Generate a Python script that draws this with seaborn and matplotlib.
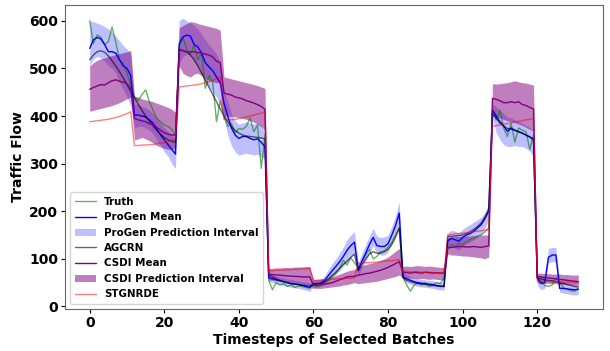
import numpy as np
import matplotlib
matplotlib.use("Agg")
import matplotlib.pyplot as plt
import seaborn as sns

# ====== Data (11 batches x 12 timesteps) ======
truth = [
    600, 552, 570, 566, 550, 556, 587, 555, 518, 510, 490, 465,
    440, 432, 445, 455, 430, 412, 395, 388, 381, 378, 372, 358,
    545, 565, 540, 530, 548, 518, 532, 458, 485, 470, 388, 432,
    400, 378, 385, 364, 374, 372, 378, 396, 367, 381, 290, 360,
    55, 35, 50, 45, 48, 42, 45, 40, 43, 42, 40, 38,
    45, 42, 44, 50, 55, 63, 70, 80, 97, 87, 102, 92,
    81, 95, 108, 120, 100, 105, 115, 117, 125, 135, 150, 165,
    63, 45, 32, 45, 50, 45, 50, 42, 45, 50, 48, 60,
    123, 130, 126, 133, 130, 136, 140, 143, 148, 150, 157, 165,
    409, 392, 412, 375, 357, 385, 345, 375, 370, 367, 330, 360,
    63, 52, 44, 42, 45, 60, 50, 40, 36, 33, 32, 38,
]
progen_mean = [
    542, 560, 565, 562, 550, 535, 535, 532, 518, 505, 500, 485,
    402, 402, 400, 398, 392, 385, 372, 360, 350, 340, 330, 320,
    552, 566, 570, 568, 550, 545, 532, 512, 503, 495, 482, 470,
    427, 400, 375, 360, 353, 357, 357, 353, 350, 352, 345, 335,
    60, 58, 56, 54, 52, 50, 48, 47, 46, 44, 42, 40,
    48, 48, 49, 55, 65, 75, 84, 94, 105, 118, 128, 135,
    77, 95, 112, 130, 145, 128, 126, 126, 132, 150, 170, 196,
    62, 58, 55, 52, 50, 49, 48, 47, 46, 44, 43, 42,
    138, 143, 140, 137, 145, 150, 153, 158, 165, 172, 185, 200,
    413, 400, 388, 380, 368, 375, 370, 367, 364, 360, 356, 350,
    60, 48, 50, 103, 108, 108, 38, 38, 37, 36, 35, 36,
]
progen_hi = [
    600, 598, 595, 592, 588, 583, 576, 568, 558, 548, 540, 530,
    425, 425, 420, 418, 412, 405, 395, 385, 375, 368, 360, 352,
    601, 605, 600, 596, 590, 582, 572, 560, 550, 540, 530, 514,
    455, 430, 405, 390, 383, 385, 388, 385, 383, 385, 380, 365,
    68, 66, 64, 62, 60, 58, 57, 55, 54, 52, 51, 49,
    56, 56, 57, 65, 78, 90, 100, 112, 125, 140, 150, 157,
    92, 112, 130, 148, 164, 148, 145, 146, 150, 168, 190, 220,
    70, 66, 63, 60, 58, 57, 56, 55, 54, 52, 51, 50,
    155, 160, 158, 155, 162, 168, 172, 178, 182, 188, 198, 215,
    425, 420, 412, 405, 398, 396, 392, 388, 384, 380, 376, 370,
    68, 62, 62, 122, 124, 124, 55, 52, 50, 48, 47, 46,
]
progen_lo = [
    505, 520, 525, 522, 515, 505, 500, 490, 470, 455, 440, 420,
    375, 378, 378, 375, 370, 362, 350, 338, 325, 315, 300, 290,
    510, 525, 530, 528, 515, 505, 490, 472, 460, 450, 440, 425,
    395, 360, 338, 325, 318, 320, 322, 320, 318, 320, 314, 310,
    52, 50, 48, 46, 44, 42, 40, 39, 38, 36, 34, 32,
    40, 40, 42, 46, 53, 60, 67, 75, 85, 95, 105, 112,
    62, 80, 95, 112, 128, 112, 108, 108, 114, 132, 150, 172,
    54, 50, 47, 44, 42, 41, 40, 39, 38, 36, 35, 34,
    122, 126, 122, 118, 126, 132, 135, 140, 146, 152, 165, 182,
    395, 365, 350, 340, 336, 336, 338, 336, 336, 332, 326, 315,
    45, 35, 38, 92, 94, 94, 30, 28, 27, 25, 24, 25,
]
agcrn = [
    518, 528, 535, 537, 534, 526, 516, 505, 493, 480, 466, 452,
    438, 425, 412, 400, 389, 379, 370, 362, 355, 350, 347, 345,
    540, 538, 535, 528, 518, 505, 490, 475, 460, 445, 430, 415,
    400, 388, 378, 370, 364, 360, 358, 357, 356, 355, 354, 352,
    66, 62, 58, 55, 52, 50, 48, 47, 46, 45, 44, 43,
    45, 46, 48, 52, 58, 65, 72, 80, 88, 95, 103, 110,
    75, 88, 100, 110, 115, 112, 112, 115, 120, 130, 145, 165,
    60, 55, 52, 50, 48, 47, 46, 45, 44, 43, 42, 42,
    147, 147, 148, 149, 150, 153, 157, 162, 168, 176, 188, 205,
    405, 395, 385, 378, 374, 372, 370, 367, 364, 360, 356, 352,
    60, 58, 56, 55, 54, 52, 50, 48, 46, 44, 42, 41,
]
csdi_mean = [
    456, 460, 463, 466, 465, 470, 474, 476, 473, 471, 468, 458,
    395, 392, 390, 388, 384, 382, 376, 370, 365, 362, 360, 360,
    538, 537, 534, 535, 535, 533, 533, 530, 528, 524, 515, 512,
    448, 446, 444, 440, 438, 436, 432, 430, 427, 424, 420, 414,
    68, 67, 66, 66, 65, 64, 64, 63, 63, 62, 62, 62,
    45, 45, 46, 47, 48, 50, 53, 56, 59, 62, 63, 63,
    66, 67, 69, 70, 72, 74, 76, 79, 82, 86, 90, 94,
    72, 71, 70, 72, 71, 70, 72, 71, 70, 71, 70, 70,
    123, 124, 125, 126, 126, 125, 125, 126, 125, 124, 126, 127,
    437, 435, 432, 428, 428, 430, 428, 430, 424, 422, 418, 415,
    63, 62, 61, 60, 59, 58, 57, 56, 55, 54, 53, 52,
]
csdi_hi = [
    505, 512, 517, 520, 522, 525, 527, 529, 531, 533, 535, 538,
    442, 440, 436, 434, 432, 430, 427, 424, 421, 418, 414, 408,
    585, 590, 594, 598, 597, 594, 592, 590, 588, 586, 584, 580,
    482, 480, 478, 476, 474, 472, 470, 468, 466, 464, 461, 458,
    80, 80, 81, 81, 82, 82, 82, 83, 83, 83, 84, 84,
    56, 56, 57, 58, 60, 62, 65, 68, 71, 74, 76, 78,
    84, 86, 88, 90, 92, 94, 97, 100, 104, 110, 116, 122,
    84, 85, 84, 85, 86, 85, 84, 85, 84, 83, 82, 82,
    145, 146, 147, 147, 148, 148, 148, 149, 149, 150, 150, 150,
    468, 467, 468, 469, 470, 472, 474, 472, 470, 469, 467, 465,
    70, 70, 69, 69, 68, 68, 68, 67, 67, 66, 66, 66,
]
csdi_lo = [
    410, 412, 414, 416, 418, 420, 422, 425, 428, 432, 436, 440,
    350, 352, 355, 352, 348, 343, 338, 335, 332, 330, 330, 332,
    505, 490, 485, 482, 488, 490, 485, 478, 475, 472, 470, 470,
    400, 400, 399, 398, 397, 395, 393, 390, 387, 383, 378, 370,
    56, 55, 54, 53, 52, 51, 50, 49, 48, 47, 46, 45,
    38, 38, 38, 39, 40, 41, 42, 43, 45, 46, 48, 50,
    48, 49, 50, 51, 52, 53, 55, 57, 59, 61, 63, 66,
    60, 59, 60, 59, 58, 59, 58, 57, 58, 57, 56, 56,
    110, 108, 108, 107, 106, 106, 105, 104, 103, 102, 100, 104,
    400, 398, 396, 393, 390, 388, 386, 383, 380, 376, 372, 368,
    50, 50, 49, 49, 48, 48, 47, 47, 46, 46, 45, 45,
]
stgnrde = [
    388, 389, 390, 391, 392, 393, 395, 397, 399, 402, 405, 409,
    338, 338, 339, 339, 340, 340, 342, 343, 344, 346, 349, 352,
    461, 462, 463, 464, 465, 466, 468, 470, 472, 475, 478, 482,
    393, 392, 392, 393, 395, 396, 398, 400, 402, 404, 406, 409,
    75, 75, 76, 76, 76, 77, 77, 78, 78, 79, 79, 80,
    55, 55, 56, 56, 57, 57, 58, 58, 58, 59, 59, 60,
    91, 91, 92, 92, 93, 93, 94, 95, 96, 96, 97, 98,
    74, 74, 73, 73, 73, 72, 72, 72, 71, 71, 71, 70,
    150, 151, 152, 153, 154, 155, 156, 157, 158, 159, 160, 161,
    378, 380, 381, 383, 384, 386, 387, 389, 390, 392, 393, 395,
    53, 53, 52, 52, 52, 52, 51, 51, 51, 51, 50, 50,
]
steps = np.arange(len(truth))

# ====== Style ======
sns.set_style("ticks")
plt.rcParams["font.family"] = ["DejaVu Sans"]
plt.rcParams["font.weight"] = "bold"
plt.rcParams["axes.edgecolor"] = "#666666"
plt.rcParams["text.color"] = "black"
plt.rcParams["axes.labelcolor"] = "black"
plt.rcParams["xtick.color"] = "black"
plt.rcParams["ytick.color"] = "black"

fig, ax = plt.subplots(figsize=(6.1, 3.51), dpi=100)
fig.subplots_adjust(left=0.107, right=0.988, top=0.987, bottom=0.12)

lw = 1.0
sns.lineplot(x=steps, y=truth, color="green", alpha=0.6, lw=lw, label="Truth", ax=ax)
sns.lineplot(x=steps, y=progen_mean, color="blue", lw=lw, label="ProGen Mean", ax=ax)
ax.fill_between(steps, progen_lo, progen_hi, color="blue", alpha=0.25, lw=0,
                label="ProGen Prediction Interval")
sns.lineplot(x=steps, y=agcrn, color="black", alpha=0.6, lw=lw, label="AGCRN", ax=ax)
sns.lineplot(x=steps, y=csdi_mean, color="purple", lw=lw, label="CSDI Mean", ax=ax)
ax.fill_between(steps, csdi_lo, csdi_hi, color="purple", alpha=0.5, lw=0,
                label="CSDI Prediction Interval")
sns.lineplot(x=steps, y=stgnrde, color="red", alpha=0.5, lw=lw, label="STGNRDE", ax=ax)

ax.set_xlabel("Timesteps of Selected Batches", fontsize=10, fontweight="bold", labelpad=2)
ax.set_ylabel("Traffic Flow", fontsize=10, fontweight="bold", labelpad=3)
ax.tick_params(labelsize=10, length=3, pad=2)
for lab in ax.get_xticklabels() + ax.get_yticklabels():
    lab.set_fontweight("bold")

leg = ax.legend(loc="lower left", prop={"weight": "bold", "size": 7.4},
                handlelength=2.0, labelspacing=0.52, borderpad=0.45)

plt.savefig("out.png", dpi=100)
